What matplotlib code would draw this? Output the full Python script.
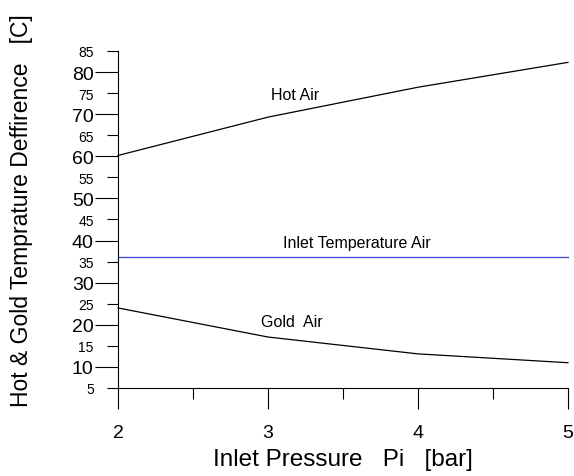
import numpy as np
import matplotlib
matplotlib.use('Agg')
from matplotlib import pyplot as plt
from matplotlib.ticker import MultipleLocator

plt.rcParams['font.family'] = ['Liberation Sans', 'DejaVu Sans']

# data
pressure = [2, 3, 4, 5]
hot_air = [60.2, 69.3, 76.4, 82.3]
gold_air = [24.0, 17.1, 13.1, 11.0]
inlet_temp = [36.2, 36.2, 36.2, 36.2]

fig = plt.figure(figsize=(5.74, 4.77), dpi=100)
ax = fig.add_axes([0.2056, 0.1845, 0.7839, 0.7065])

ax.plot(pressure, hot_air, color='black', lw=0.9, clip_on=False)
ax.plot(pressure, gold_air, color='black', lw=0.9, clip_on=False)
ax.plot(pressure, inlet_temp, color='#3a44d8', lw=0.9, clip_on=False)

ax.text(3.18, 74.6, 'Hot Air', fontsize=11.5, ha='center', va='center')
ax.text(3.59, 39.5, 'Inlet Temperature Air', fontsize=11.5, ha='center', va='center')
ax.text(3.16, 20.9, 'Gold  Air', fontsize=11.5, ha='center', va='center')

ax.set_xlim(2, 5)
ax.set_ylim(5, 85)

for side in ['top', 'right']:
    ax.spines[side].set_visible(False)
for side in ['left', 'bottom']:
    ax.spines[side].set_linewidth(0.8)

ax.xaxis.set_major_locator(MultipleLocator(1))
ax.xaxis.set_minor_locator(MultipleLocator(0.5))
ax.yaxis.set_major_locator(MultipleLocator(10))
ax.set_yticks([5, 15, 25, 35, 45, 55, 65, 75, 85], minor=True)
ax.set_yticklabels(['5', '15', '25', '35', '45', '55', '65', '75', '85'], minor=True)

ax.tick_params(axis='y', which='major', direction='out', length=16.5, width=0.8,
               labelsize=14, pad=1)
ax.tick_params(axis='y', which='minor', direction='out', length=8, width=0.8,
               labelsize=10, pad=9.5)
ax.tick_params(axis='x', which='major', direction='out', length=15, width=0.8,
               labelsize=14, pad=11)
ax.tick_params(axis='x', which='minor', direction='out', length=8, width=0.8)

ax.set_xlabel('Inlet Pressure   Pi   [bar]', fontsize=17.5)
ax.set_ylabel('Hot & Gold Temprature Deffirence   [C]', fontsize=16.5)
ax.xaxis.set_label_coords(0.5, -0.178)
ax.yaxis.set_label_coords(-0.19, 0.53)

fig.savefig('out.png', dpi=100)
